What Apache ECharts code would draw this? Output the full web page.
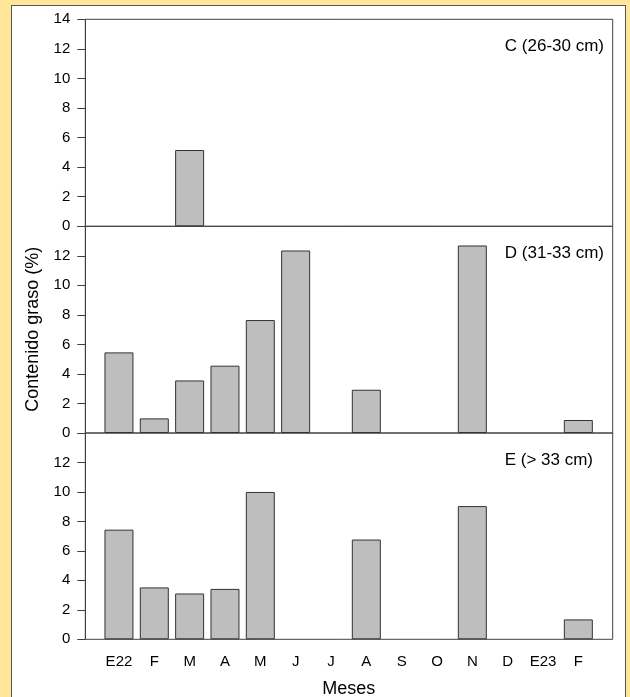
<!DOCTYPE html>
<html>
<head>
<meta charset="utf-8">
<script src="https://cdn.jsdelivr.net/npm/echarts@6/dist/echarts.min.js"></script>
<style>
  html, body { margin: 0; padding: 0; width: 630px; height: 697px; overflow: hidden; background: #FFE699; }
  #box { position: absolute; left: 11px; top: 5px; width: 613px; height: 720px; background: #ffffff; border: 1px solid #555555; }
  #chart { position: absolute; left: 0; top: 0; width: 630px; height: 697px; }
</style>
</head>
<body>
<div id="box"></div>
<div id="chart"></div>
<script>
// ---- data ----
const months = ['E22', 'F', 'M', 'A', 'M', 'J', 'J', 'A', 'S', 'O', 'N', 'D', 'E23', 'F'];
const panelLabels = ['C (26-30 cm)', 'D (31-33 cm)', 'E (> 33 cm)'];
const valuesC = [null, null, 5.16, null, null, null, null, null, null, null, null, null, null, null];
const valuesD = [5.46, 0.99, 3.56, 4.56, 7.65, 12.36, null, 2.93, null, null, 12.7, null, null, 0.88];
const valuesE = [7.44, 3.52, 3.11, 3.42, 10.0, null, null, 6.77, null, null, 9.04, null, null, 1.35];
const yTicks = [0, 2, 4, 6, 8, 10, 12, 14];
const yTitle = 'Contenido graso (%)';
const xTitle = 'Meses';

const panels = [valuesC, valuesD, valuesE];
const FONT = '"Liberation Sans", Arial, Helvetica, sans-serif';
const TXT = '#000';
const tops = [19.3, 226.3, 433];
const heights = [207, 206.7, 206.3];
const frameLeft = 85.3, frameWidth = 527.4;
const barLeft = 101.3, barWidth = 494.7;
const yMin = yTicks[0], yMax = yTicks[yTicks.length - 1], yStep = yTicks[1] - yTicks[0];

const grid = [], xAxis = [], yAxis = [], series = [];
for (let i = 0; i < 3; i++) {
  grid.push({ left: frameLeft, width: frameWidth, top: tops[i], height: heights[i],
    containLabel: false, outerBoundsMode: 'none',
    show: true, borderColor: '#404040', borderWidth: 1, backgroundColor: 'transparent' });
}
for (let i = 0; i < 3; i++) {
  grid.push({ left: barLeft, width: barWidth, top: tops[i], height: heights[i],
    containLabel: false, outerBoundsMode: 'none' });
}
for (let i = 0; i < 3; i++) {
  xAxis.push({ gridIndex: i, type: 'value', min: 0, max: 1, show: false });
  yAxis.push({
    gridIndex: i, type: 'value', min: yMin, max: yMax, interval: yStep,
    axisLine: { show: true, lineStyle: { color: '#404040', width: 1 } },
    axisTick: { show: true, length: 8, inside: false, lineStyle: { color: '#404040', width: 1 } },
    splitLine: { show: false },
    axisLabel: {
      show: true, fontSize: 15, color: TXT, fontFamily: FONT, margin: 15,
      formatter: function (v) { return (i > 0 && v === yMax) ? '' : String(v); }
    }
  });
}
for (let i = 0; i < 3; i++) {
  const last = i === 2;
  xAxis.push({
    gridIndex: 3 + i, type: 'category', data: months, boundaryGap: true,
    axisLine: { show: false }, axisTick: { show: false }, splitLine: { show: false },
    axisLabel: { show: last, fontSize: 15, color: TXT, fontFamily: FONT, margin: 15, interval: 0 },
    name: last ? xTitle : '', nameLocation: 'middle', nameGap: 41,
    nameTextStyle: { fontSize: 18, color: TXT, fontFamily: FONT }
  });
  yAxis.push({ gridIndex: 3 + i, type: 'value', min: yMin, max: yMax, show: false });
  series.push({
    type: 'bar', xAxisIndex: 3 + i, yAxisIndex: 3 + i, data: panels[i],
    barWidth: 29,
    itemStyle: { color: '#BEBEBE', borderColor: '#333333', borderWidth: 1 },
    silent: true, animation: false
  });
}

const labelRight = [604, 604, 593];
const graphic = [];
for (let i = 0; i < 3; i++) {
  graphic.push({ type: 'text', x: labelRight[i], y: tops[i] + 27.5,
    style: { text: panelLabels[i], fill: TXT, font: '17px ' + FONT, textAlign: 'right', textVerticalAlign: 'middle' } });
}
graphic.push({ type: 'text', x: 33.5, y: 329.3, rotation: Math.PI / 2,
  style: { text: yTitle, fill: TXT, font: '18px ' + FONT, textAlign: 'center', textVerticalAlign: 'middle' } });

const chart = echarts.init(document.getElementById('chart'), null, { renderer: 'canvas' });
chart.setOption({
  backgroundColor: 'transparent',
  animation: false,
  grid: grid, xAxis: xAxis, yAxis: yAxis, series: series, graphic: graphic
});
</script>
</body>
</html>
